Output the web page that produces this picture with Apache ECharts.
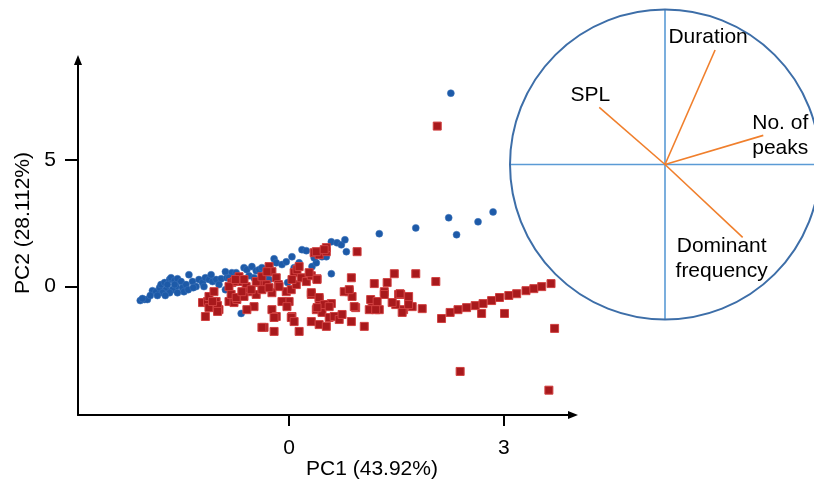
<!DOCTYPE html>
<html>
<head>
<meta charset="utf-8">
<script src="https://cdn.jsdelivr.net/npm/echarts@6/dist/echarts.min.js"></script>
<style>
  html, body { margin: 0; padding: 0; background: #fff; }
  #main { width: 814px; height: 484px; }
</style>
</head>
<body>
<div id="main"></div>
<script>
// 散点数据 (PC1, PC2)
const groupBlue = [
  [-2.08, -0.55], [-2.02, -0.51], [-1.98, -0.51], [-2.05, -0.47], [-1.91, -0.16], [-1.86, -0.20],
  [-1.81, -0.04], [-1.79, 0.08], [-1.74, 0.16], [-1.72, -0.12], [-1.77, -0.24], [-1.67, 0.28],
  [-1.65, 0.35], [-1.60, 0.24], [-1.56, 0.31], [-1.51, 0.20], [-1.58, 0.0], [-1.63, -0.12],
  [-1.67, -0.24], [-1.49, -0.04], [-1.44, 0.08], [-1.40, 0.47], [-1.35, 0.20], [-1.30, 0.0],
  [-1.26, 0.28], [-1.21, 0.16], [-1.17, 0.35], [-1.12, 0.28], [-1.07, 0.20], [-1.02, 0.28],
  [-0.95, 0.31], [-0.89, 0.59], [-0.87, 0.35], [-0.80, 0.55], [-0.74, 0.55], [-0.70, 0.39],
  [-0.63, 0.75], [-0.59, 0.67], [-0.52, 0.79], [-0.46, 0.63], [-0.42, 0.67], [-0.38, 0.75],
  [-0.32, 0.59], [-0.21, 1.10], [-0.18, 0.94], [-0.10, 0.87], [0.04, 1.18], [0.14, 0.94],
  [0.18, 1.46], [0.24, 1.42], [0.32, 0.79], [0.38, 0.94], [0.46, 1.18], [0.52, 1.18],
  [0.59, 1.77], [0.67, 1.73], [0.73, 1.65], [0.78, 1.85], [0.80, 1.38], [0.59, 0.51],
  [1.26, 2.09], [1.77, 2.32], [2.23, 2.72], [2.34, 2.05], [2.64, 2.56], [2.85, 2.95],
  [2.26, 7.64], [-0.67, -1.06], [-0.89, -0.12], [-0.81, -0.39], [-0.74, 0.20], [-0.84, 0.35],
  [-1.47, -0.20], [-1.84, -0.35], [-1.94, -0.35], [-1.73, -0.35], [-1.56, -0.24], [-1.41, -0.12],
  [-1.34, -0.04], [-1.19, 0.0], [-0.56, 0.43], [-0.49, 0.35], [-0.25, 0.67], [-0.04, 0.98],
  [0.07, 0.75], [0.35, 1.14], [-0.33, 0.39], [-1.09, 0.47], [-0.98, 0.08], [-1.60, 0.08],
  [-1.70, 0.08], [-0.02, 0.16], [-0.28, 0.28]
];
const groupRed = [
  [-1.21, -0.63], [-1.17, -1.18], [-1.14, -0.59], [-1.12, -0.39], [-1.05, -0.20], [-1.02, -0.59],
  [-0.98, -0.91], [-1.00, -0.75], [-1.12, -0.83], [-0.84, -0.59], [-0.77, -0.63], [-0.73, -0.51],
  [-0.81, -0.31], [-0.80, 0.16], [-0.66, 0.20], [-0.60, 0.0], [-0.56, -0.20], [-0.63, -0.39],
  [-0.49, -0.79], [-0.59, -0.91], [-0.46, -0.31], [-0.42, 0.16], [-0.32, 0.08], [-0.35, -1.61],
  [-0.21, -1.77], [-0.28, 0.79], [-0.24, 0.59], [-0.18, 0.35], [-0.15, 0.08], [-0.24, -0.24],
  [-0.24, -0.91], [-0.18, -1.18], [-0.04, -0.20], [0.03, -0.12], [0.07, 0.55], [0.11, 0.67],
  [0.14, 0.79], [0.10, 0.08], [0.0, -0.59], [0.04, -1.18], [0.14, -1.77], [0.17, 0.35],
  [0.24, 0.20], [0.31, 0.43], [0.39, 0.31], [0.35, 1.34], [0.42, 1.26], [0.52, 1.38],
  [0.52, 1.54], [0.95, 1.38], [0.31, -0.31], [0.42, -0.51], [0.38, -0.91], [0.46, -1.02],
  [0.53, -0.71], [0.56, -1.22], [0.63, -1.18], [0.70, -1.30], [0.31, -1.38], [0.42, -1.50],
  [0.52, -1.57], [0.84, -0.20], [0.88, -0.39], [0.93, -0.83], [1.05, -1.57], [1.19, 0.12],
  [1.37, 0.16], [1.47, 0.51], [1.33, -0.20], [1.16, -0.83], [1.26, -0.91], [1.49, -0.71],
  [1.56, -0.31], [1.67, -0.39], [1.60, -0.91], [1.72, -0.79], [1.77, 0.51], [0.87, 0.35],
  [0.77, -0.20], [0.84, -0.12], [0.59, -0.67], [0.91, -0.79], [1.14, -0.51], [1.33, -0.31],
  [1.23, -0.59], [1.12, -0.91], [1.21, -0.91], [1.44, -0.63], [1.53, -0.31], [1.67, -0.71],
  [1.58, -1.02], [1.86, -0.87], [0.74, -1.10], [0.87, -1.38], [2.05, 0.20], [2.07, 6.34],
  [2.13, -1.26], [2.25, -1.02], [2.36, -0.91], [2.48, -0.83], [2.60, -0.75], [2.71, -0.67],
  [2.83, -0.55], [2.94, -0.43], [3.07, -0.35], [3.18, -0.28], [3.31, -0.16], [3.42, -0.08],
  [3.53, 0.0], [3.66, 0.12], [2.69, -1.06], [3.01, -1.06], [3.71, -1.65], [2.39, -3.35],
  [3.63, -4.09], [-0.77, 0.20], [-0.70, 0.39], [-0.63, 0.28], [-0.53, -0.12], [-0.46, 0.20],
  [-0.38, 0.39], [-0.31, 0.59], [-0.38, -0.12], [-0.28, -0.04], [-0.14, 0.0], [0.04, 0.28],
  [0.28, 0.55], [0.38, 1.38], [0.49, 1.46], [0.39, 0.28], [0.31, -0.24], [0.42, -0.43],
  [0.49, -0.71], [0.56, -0.79], [0.39, -0.83], [-0.10, -0.59], [-0.03, -0.79], [-0.21, -1.22],
  [0.03, -1.22], [0.07, -1.38], [-0.38, -1.61], [-0.74, -0.43], [-0.66, -0.20], [-0.84, 0.0],
  [-1.07, -0.59], [-1.00, -0.98], [-0.75, 0.28], [1.55, -0.28]
];
const xTicks = [0, 3];
const yTicks = [0, 5];

// 载荷 (PC1, PC2)
const loadingNames = ['Duration', 'SPL', 'No. of\npeaks', 'Dominant\nfrequency'];
const loadingPC1 = [0.323, -0.424, 0.634, 0.501];
const loadingPC2 = [0.739, 0.369, 0.188, -0.470];

const font = 'Liberation Sans, Arial, sans-serif';
const labelOffsets = [[-7, -13], [-9, -12], [17, 0], [-21, 21]];

const loadings = loadingNames.map((n, i) => {
  const x = loadingPC1[i], y = loadingPC2[i];
  return { name: n, r: Math.sqrt(x * x + y * y), a: Math.atan2(y, x) * 180 / Math.PI };
});

const myChart = echarts.init(document.getElementById('main'));

const option = {
  animation: false,
  backgroundColor: '#fff',
  grid: { left: 78, top: 60, right: 241, bottom: 69 },
  xAxis: {
    type: 'value',
    min: -2.95,
    max: 3.967,
    axisLine: {
      onZero: false,
      lineStyle: { color: '#000', width: 2 },
      symbol: ['none', 'triangle'],
      symbolSize: [8, 10]
    },
    axisTick: { customValues: xTicks, length: 11, lineStyle: { color: '#000', width: 2 } },
    axisLabel: { customValues: xTicks, fontSize: 21, margin: 23, color: '#000', fontFamily: font },
    splitLine: { show: false }
  },
  yAxis: {
    type: 'value',
    min: -5.07,
    max: 8.95,
    axisLine: {
      onZero: false,
      lineStyle: { color: '#000', width: 2 },
      symbol: ['none', 'triangle'],
      symbolSize: [8, 10]
    },
    axisTick: { customValues: yTicks, length: 13, lineStyle: { color: '#000', width: 2 } },
    axisLabel: { customValues: yTicks, fontSize: 21, margin: 22, color: '#000', fontFamily: font },
    splitLine: { show: false }
  },
  polar: { center: [665, 164.5], radius: 155 },
  angleAxis: {
    type: 'value',
    min: 0,
    max: 360,
    interval: 90,
    startAngle: 0,
    clockwise: false,
    axisLine: { lineStyle: { color: '#3d6ea8', width: 2 } },
    axisTick: { show: false },
    axisLabel: { show: false },
    splitLine: { show: true, lineStyle: { color: '#5b9bd5', width: 1.6 } }
  },
  radiusAxis: { min: 0, max: 1, show: false },
  graphic: [
    {
      type: 'text', x: 372, y: 469,
      style: { text: 'PC1 (43.92%)', font: '21px ' + font, fill: '#000', align: 'center', verticalAlign: 'middle' }
    },
    {
      type: 'text', x: 23, y: 223, rotation: Math.PI / 2,
      style: { text: 'PC2 (28.112%)', font: '21px ' + font, fill: '#000', align: 'center', verticalAlign: 'middle' }
    }
  ],
  series: [
    {
      type: 'scatter',
      data: groupBlue,
      symbol: 'circle',
      symbolSize: 7,
      itemStyle: { color: '#1d5aa8', borderColor: '#3f75bb', borderWidth: 0.5, opacity: 1 }
    },
    {
      type: 'scatter',
      data: groupRed,
      symbol: 'rect',
      symbolSize: 8,
      itemStyle: { color: '#a8191c', borderColor: '#d04040', borderWidth: 1, opacity: 1 }
    },
    ...loadings.map(l => ({
      type: 'line',
      coordinateSystem: 'polar',
      data: [[0, l.a], [l.r, l.a]],
      symbol: 'none',
      lineStyle: { color: '#f07f2c', width: 1.6 }
    })),
    {
      type: 'scatter',
      coordinateSystem: 'polar',
      symbolSize: 1,
      itemStyle: { color: 'rgba(0,0,0,0)' },
      data: loadings.map((l, i) => ({
        value: [l.r, l.a],
        label: {
          show: true,
          position: 'inside',
          offset: labelOffsets[i],
          formatter: l.name,
          fontSize: 21,
          lineHeight: 25,
          color: '#000',
          textBorderWidth: 0,
          opacity: 1,
          fontFamily: font
        }
      }))
    }
  ]
};

myChart.setOption(option);
</script>
</body>
</html>
